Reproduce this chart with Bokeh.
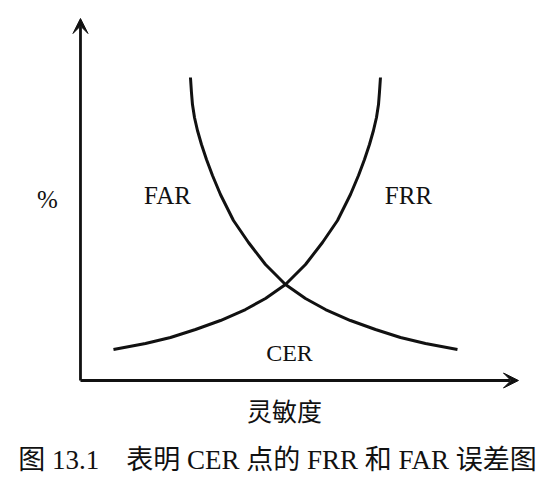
from bokeh.plotting import figure
from bokeh.models import Range1d, Arrow, VeeHead, Label, ColumnDataSource
from bokeh.embed import file_html
from bokeh.resources import INLINE

# ---- data (arbitrary units, axes 0..10) ----
sensitivity_far = [2.511, 2.534, 2.557, 2.603, 2.671, 2.763, 2.877, 3.014, 3.196, 3.493,
                   3.836, 4.224, 4.680, 5.137, 5.594, 6.164, 6.735, 7.306, 7.877, 8.607]
far_values      = [8.370, 7.956, 7.624, 7.265, 6.906, 6.519, 6.105, 5.663, 5.138, 4.420,
                   3.812, 3.204, 2.652, 2.265, 1.961, 1.657, 1.409, 1.188, 1.022, 0.856]

sensitivity_frr = [0.753, 1.484, 2.055, 2.626, 3.196, 3.767, 4.224, 4.680, 5.137, 5.525,
                   5.868, 6.164, 6.347, 6.484, 6.598, 6.689, 6.758, 6.804, 6.826, 6.849]
frr_values      = [0.856, 1.022, 1.188, 1.409, 1.657, 1.961, 2.265, 2.652, 3.204, 3.812,
                   4.420, 5.138, 5.663, 6.105, 6.519, 6.906, 7.265, 7.624, 7.956, 8.370]

axis_max_x = 10
axis_max_y = 10

y_label = "%"
x_label = "灵敏度"
far_label = "FAR"
frr_label = "FRR"
cer_label = "CER"
caption = "图 13.1\u2002\u2002表明 CER 点的 FRR 和 FAR 误差图"

W, H = 556, 496
INK = "#111111"
SERIF = "Liberation Serif"
MIXED = "'Liberation Serif', 'Noto Sans CJK SC'"

p = figure(width=W, height=H, output_backend="svg", toolbar_location=None,
           x_range=Range1d(-1.826, 10.868), y_range=Range1d(-3.204, 10.497),
           x_axis_type=None, y_axis_type=None, min_border=0,
           background_fill_color="white", border_fill_color="white")
p.outline_line_color = None
p.grid.visible = False

far_src = ColumnDataSource(dict(x=sensitivity_far, y=far_values))
frr_src = ColumnDataSource(dict(x=sensitivity_frr, y=frr_values))
p.line("x", "y", source=far_src, line_color=INK, line_width=3, line_join="round", line_cap="butt")
p.line("x", "y", source=frr_src, line_color=INK, line_width=3, line_join="round", line_cap="butt")

# axes with arrowheads
p.add_layout(Arrow(x_start=0, y_start=0, x_end=axis_max_x, y_end=0, line_color=INK, line_width=2.8,
                   end=VeeHead(size=15, fill_color=INK, line_color=INK, line_width=1)))
p.add_layout(Arrow(x_start=0, y_start=0, x_end=0, y_end=axis_max_y, line_color=INK, line_width=2.8,
                   end=VeeHead(size=15, fill_color=INK, line_color=INK, line_width=1)))

def lab(txt, px, py, size, font):
    p.add_layout(Label(x=px, y=H - py, x_units="screen", y_units="screen", text=txt,
                       text_align="center", text_baseline="middle", text_color=INK,
                       text_font=font, text_font_size=f"{size}px"))

lab(y_label, 47, 199, 25, SERIF)
lab(far_label, 167, 195, 25, SERIF)
lab(frr_label, 408, 195, 25, SERIF)
lab(cer_label, 289, 352, 24, SERIF)
lab(x_label, 284, 409, 25, "Noto Sans CJK SC")
lab(caption, 277, 459, 27, MIXED)

open("out.html", "w").write(file_html(p, INLINE))
